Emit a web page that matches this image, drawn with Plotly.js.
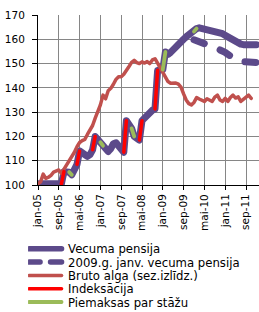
<!DOCTYPE html>
<html>
<head>
<meta charset="utf-8">
<script src="https://cdn.plot.ly/plotly-3.0.1.min.js"></script>
<style>
  html, body { margin: 0; padding: 0; background: #fff; }
  #chart { width: 259px; height: 312px; }
  /* rounded ends and joins, as in the source workbook's chart lines */
  .js-line { stroke-linejoin: round; stroke-linecap: round; }
</style>
</head>
<body>
<div id="chart"></div>
<script>
// Month categories Jan 2005 .. Jan 2012 (Latvian short month names)
const monthNames = ['jan','feb','mar','apr','mai','jūn','jūl','aug','sep','okt','nov','dec'];
const months = [];
for (let y = 5; y <= 12; y++) {
  for (let k = 0; k < 12; k++) {
    months.push(monthNames[k] + '-' + String(y).padStart(2, '0'));
  }
}

// Old-age pension index (Jan 2005 = 100)
const pension = [
  100.5, 100.5, 100.5, 100.5, 100.5, 100.5, 100.5, 100.5, 100.5, 100.5,
  105.5, 105.4, 105.3, 104.2, 106.5, 108.5, 114.0, 113.0, 112.0, 111.8,
  112.5, 114.5, 120.0, 118.8, 117.6, 116.2, 114.5, 113.8, 115.0, 117.0,
  117.4, 116.2, 114.8, 113.5, 126.5, 125.0, 123.3, 120.0, 118.8, 118.5,
  126.5, 127.8, 129.0, 130.0, 130.8, 131.3, 147.2, 147.4, 147.5, 154.8,
  153.8, 154.6, 155.5, 156.5, 157.7, 158.8, 160.0, 161.0, 162.0, 162.8,
  163.2, 164.4, 164.7, 164.5, 164.1, 163.7, 163.4, 163.2, 163.1, 163.0,
  162.8, 162.3, 161.6, 160.9, 160.2, 159.5, 158.8, 158.3, 158.0, 157.8,
  157.8, 157.8, 157.8, 157.8, 157.8
];

// Pension granted in January 2009, from January 2010 on
const pension2009Start = 60;
const pension2009 = [
  159.8, 159.3, 158.9, 158.5, 158.1, 157.7, 157.4, 157.0, 156.6, 156.2,
  155.8, 155.3, 154.6, 153.8, 153.0, 152.3, 151.7, 151.2, 150.9, 150.7,
  150.5, 150.5, 150.4, 150.4, 150.4
];

// Gross wage, seasonally adjusted index
const wage = [
  100.5, 101.3, 104.5, 102.7, 103.2, 104.0, 105.3, 105.8, 106.2, 104.8,
  106.5, 108.7, 110.2, 111.8, 113.5, 115.8, 117.5, 118.3, 118.8, 120.8,
  122.6, 124.5, 127.5, 130.2, 133.0, 137.0, 135.5, 138.8, 139.8, 141.5,
  143.5, 144.6, 144.6, 145.6, 147.0, 148.8, 150.5, 151.3, 150.4, 150.0,
  150.7, 150.2, 150.8, 150.0, 151.5, 152.0, 150.2, 148.3, 146.5, 145.0,
  142.6, 141.9, 142.1, 142.0, 141.5, 140.3, 137.5, 135.0, 133.5, 133.0,
  134.0, 136.0, 135.4, 135.0, 134.4, 135.5, 135.0, 134.4, 136.2, 137.0,
  135.0, 134.4, 135.7, 134.4, 136.0, 137.0, 135.8, 136.3, 134.4, 135.3,
  136.5, 137.0, 135.7
];

// Months where the pension step came from indexation / from seniority supplements
const indexationSteps = [[9, 10], [15, 16], [21, 22], [33, 34], [39, 40], [45, 46]];
const senioritySteps = [[12, 13], [24, 25], [36, 37], [48, 49], [60, 61]];

const legendNames = [
  'Vecuma pensija',
  '2009.g. janv. vecuma pensija',
  'Bruto alga (sez.izlīdz.)',
  'Indeksācija',
  'Piemaksas par stāžu'
];

function stepSegments(steps) {
  const x = [], y = [];
  steps.forEach(function (s) {
    x.push(months[s[0]], months[s[1]], null);
    y.push(pension[s[0]], pension[s[1]], null);
  });
  return { x: x, y: y };
}

const idx = stepSegments(indexationSteps);
const sen = stepSegments(senioritySteps);

const traces = [
  {
    x: months.slice(0, pension.length), y: pension, name: legendNames[0],
    mode: 'lines', line: { color: '#5c4a8a', width: 7 }
  },
  {
    x: months.slice(pension2009Start, pension2009Start + pension2009.length), y: pension2009,
    name: legendNames[1], mode: 'lines',
    line: { color: '#5c4a8a', width: 7, dash: '11px,17px' }
  },
  {
    x: months.slice(0, wage.length), y: wage, name: legendNames[2],
    mode: 'lines', line: { color: '#c0504d', width: 3.5 }
  },
  {
    x: idx.x, y: idx.y, name: legendNames[3], mode: 'lines', connectgaps: false,
    line: { color: '#ff0000', width: 3.5 }
  },
  {
    x: sen.x, y: sen.y, name: legendNames[4], mode: 'lines', connectgaps: false,
    line: { color: '#9bbb59', width: 3.8 }
  }
];

const font = 'DejaVu Sans, Verdana, sans-serif';

const layout = {
  width: 259, height: 312,
  margin: { l: 38, r: 0, t: 15, b: 127, pad: 0, autoexpand: false },
  paper_bgcolor: '#fff', plot_bgcolor: '#fff',
  font: { family: font, size: 10.5, color: '#000' },
  showlegend: true,
  legend: {
    x: -0.045, xanchor: 'left', y: -0.29, yanchor: 'top',
    orientation: 'v', traceorder: 'normal',
    font: { family: font, size: 11.7, color: '#000' },
    bgcolor: 'rgba(0,0,0,0)', borderwidth: 0, itemwidth: 30
  },
  xaxis: {
    type: 'category', categoryorder: 'array', categoryarray: months,
    range: [0, 85], tickmode: 'linear', tick0: 0, dtick: 8,
    tickangle: -90, ticks: 'outside', ticklen: 4, tickcolor: '#000',
    showline: true, linecolor: '#000', linewidth: 1,
    showgrid: true, gridcolor: '#868686', gridwidth: 1,
    zeroline: false, fixedrange: true,
    tickfont: { family: font, size: 10.5, color: '#000' }
  },
  yaxis: {
    range: [100, 170], tickmode: 'linear', tick0: 100, dtick: 10,
    ticks: 'outside', ticklen: 5, tickcolor: '#000', ticklabelstandoff: 5,
    showline: true, linecolor: '#000', linewidth: 1,
    showgrid: true, gridcolor: '#868686', gridwidth: 1,
    zeroline: false, fixedrange: true,
    tickfont: { family: font, size: 10.5, color: '#000' }
  }
};

Plotly.newPlot('chart', traces, layout, { staticPlot: true, displayModeBar: false }).then(function (gd) {
  // tighter legend rows, longer samples, slimmer pension samples
  const rowGap = 13.3;
  const items = gd.querySelectorAll('.legend .traces');
  let baseY = null, baseX = 0;
  items.forEach(function (g, i) {
    const m = /translate\(\s*([-\d.]+)[ ,]+([-\d.]+)/.exec(g.getAttribute('transform') || '');
    if (baseY === null && m) { baseX = parseFloat(m[1]); baseY = parseFloat(m[2]); }
    g.setAttribute('transform', 'translate(' + baseX + ',' + (baseY + i * rowGap) + ')');
    g.querySelectorAll('path.js-line').forEach(function (p) {
      p.setAttribute('d', 'M1,0h32.5');
      if (i < 2) p.style.strokeWidth = '5.5px';
      if (i === 1) p.style.strokeDasharray = '11px,10.5px';
    });
  });
});
</script>
</body>
</html>
